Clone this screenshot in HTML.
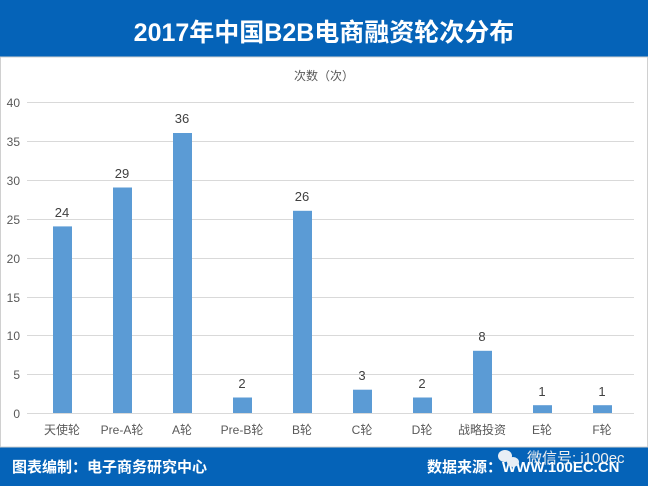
<!DOCTYPE html><html><head><meta charset="utf-8"><style>
body{margin:0;width:648px;height:486px;overflow:hidden;background:#fff;font-family:"Liberation Sans","Noto Sans CJK SC",sans-serif}
</style></head><body>
<svg width="648" height="486" xmlns="http://www.w3.org/2000/svg" style="display:block">
<rect x="0" y="0" width="648" height="486" fill="#fff"/>
<rect x="0" y="0" width="648" height="57" fill="#0563b8"/>
<rect x="0" y="447" width="648" height="39" fill="#0563b8"/>
<rect x="0.5" y="57" width="647" height="390" fill="none" stroke="#d0d0d0"/>
<text x="324" y="41" text-anchor="middle" font-size="25" font-weight="bold" fill="#fff" font-family="Liberation Sans,Noto Sans CJK SC,sans-serif">2017年中国B2B电商融资轮次分布</text>
<text x="324" y="80" text-anchor="middle" font-size="12" fill="#595959">次数（次）</text>
<g stroke="#d9d9d9" stroke-width="1">
<line x1="27" x2="634" y1="102.5" y2="102.5"/><line x1="27" x2="634" y1="180.5" y2="180.5"/>
<line x1="27" x2="634" y1="258.5" y2="258.5"/><line x1="27" x2="634" y1="335.5" y2="335.5"/>
<line x1="27" x2="634" y1="141.5" y2="141.5"/><line x1="27" x2="634" y1="219.5" y2="219.5"/>
<line x1="27" x2="634" y1="297.5" y2="297.5"/><line x1="27" x2="634" y1="374.5" y2="374.5"/>
<line x1="27" x2="634" y1="413.5" y2="413.5"/>
</g>
<g font-size="12" fill="#595959" text-anchor="end">
<text x="20" y="107">40</text><text x="20" y="146">35</text><text x="20" y="185">30</text><text x="20" y="224">25</text><text x="20" y="263">20</text><text x="20" y="302">15</text><text x="20" y="340">10</text><text x="20" y="379">5</text><text x="20" y="418">0</text>
</g>
<g fill="#5b9bd5">
<rect x="53" y="226.4" width="19" height="186.6"/>
<rect x="113" y="187.5" width="19" height="225.5"/>
<rect x="173" y="133" width="19" height="280"/>
<rect x="233" y="397.5" width="19" height="15.5"/>
<rect x="293" y="210.8" width="19" height="202.2"/>
<rect x="353" y="389.7" width="19" height="23.3"/>
<rect x="413" y="397.5" width="19" height="15.5"/>
<rect x="473" y="350.8" width="19" height="62.2"/>
<rect x="533" y="405.2" width="19" height="7.8"/>
<rect x="593" y="405.2" width="19" height="7.8"/>
</g>
<g font-size="13" fill="#404040" text-anchor="middle">
<text x="62" y="217">24</text><text x="122" y="178">29</text><text x="182" y="123">36</text><text x="242" y="388">2</text><text x="302" y="201">26</text><text x="362" y="380">3</text><text x="422" y="388">2</text><text x="482" y="341">8</text><text x="542" y="396">1</text><text x="602" y="396">1</text>
</g>
<g font-size="12" fill="#595959" text-anchor="middle">
<text x="62" y="434">天使轮</text><text x="122" y="434">Pre-A轮</text><text x="182" y="434">A轮</text><text x="242" y="434">Pre-B轮</text><text x="302" y="434">B轮</text><text x="362" y="434">C轮</text><text x="422" y="434">D轮</text><text x="482" y="434">战略投资</text><text x="542" y="434">E轮</text><text x="602" y="434">F轮</text>
</g>
<text x="12" y="472" font-size="15" font-weight="bold" fill="#fff">图表编制：电子商务研究中心</text>
<text x="427" y="472" font-size="15" font-weight="bold" fill="#fff">数据来源：WWW.100EC.CN</text>
<g fill="#e8eef5"><ellipse cx="505" cy="456" rx="7" ry="6"/><ellipse cx="513" cy="462" rx="6" ry="5"/></g>
<text x="527" y="463" font-size="15" fill="#f0f0f0">微信号: i100ec</text>
</svg>
</body></html>
